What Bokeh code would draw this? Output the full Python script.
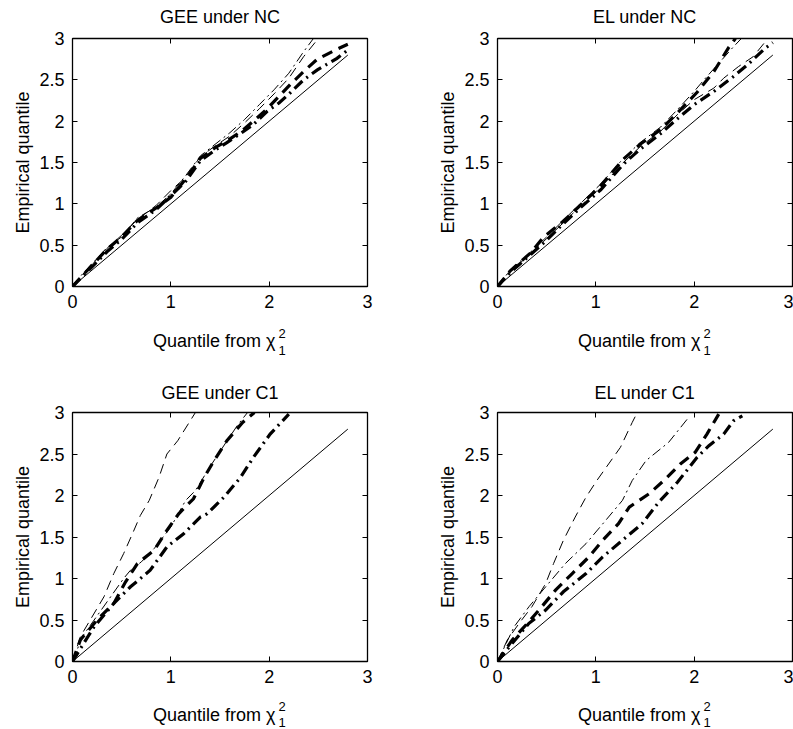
from bokeh.plotting import figure
from bokeh.layouts import column, row
from bokeh.models import LinearAxis, FixedTicker, Range1d
from bokeh.core.properties import value
from bokeh.embed import file_html
from bokeh.resources import INLINE

FONT = "Liberation Sans"

# ---------------- data ----------------
ref_x = [0, 2.8]
ref_y = [0, 2.8]

x_ticks = [0, 1, 2, 3]
y_ticks = [0, 0.5, 1, 1.5, 2, 2.5, 3]
y_tick_labels = ["0", "0.5", "1", "1.5", "2", "2.5", "3"]

titles = ["GEE under NC", "EL under NC", "GEE under C1", "EL under C1"]
x_label_main = "Quantile from \u03c7"
x_label_sup = "2"
x_label_sub = "1"
y_label = "Empirical quantile"

# GEE under NC
gee_nc_thick_dash_x = [0, 0.1, 0.35, 0.5, 0.66, 0.85, 1.0, 1.15, 1.3, 1.45, 1.57, 1.72, 1.84, 1.98, 2.1, 2.22, 2.35, 2.49, 2.69, 2.8]
gee_nc_thick_dash_y = [0, 0.13, 0.45, 0.60, 0.80, 0.95, 1.08, 1.30, 1.55, 1.68, 1.76, 1.88, 2.0, 2.15, 2.30, 2.45, 2.60, 2.75, 2.87, 2.93]
gee_nc_thick_dashdot_x = [0, 0.1, 0.35, 0.5, 0.66, 0.85, 1.0, 1.15, 1.3, 1.45, 1.57, 1.72, 1.84, 1.98, 2.1, 2.22, 2.35, 2.49, 2.69, 2.8]
gee_nc_thick_dashdot_y = [0, 0.12, 0.42, 0.57, 0.77, 0.93, 1.10, 1.27, 1.52, 1.65, 1.74, 1.86, 1.96, 2.12, 2.22, 2.35, 2.50, 2.62, 2.76, 2.86]
gee_nc_thin_dash_x = [0, 0.1, 0.35, 0.5, 0.66, 0.85, 1.0, 1.15, 1.3, 1.45, 1.6, 1.75, 1.9, 2.05, 2.2, 2.35, 2.5]
gee_nc_thin_dash_y = [0, 0.14, 0.46, 0.62, 0.81, 0.98, 1.16, 1.32, 1.57, 1.70, 1.82, 1.98, 2.15, 2.33, 2.52, 2.78, 3.0]
gee_nc_thin_dashdot_x = [0, 0.1, 0.35, 0.5, 0.66, 0.85, 1.0, 1.15, 1.3, 1.45, 1.6, 1.75, 1.9, 2.05, 2.2, 2.35, 2.45]
gee_nc_thin_dashdot_y = [0, 0.15, 0.47, 0.60, 0.83, 0.96, 1.12, 1.34, 1.58, 1.72, 1.86, 2.02, 2.20, 2.38, 2.58, 2.84, 3.0]

# EL under NC
el_nc_thick_dash_x = [0, 0.13, 0.34, 0.47, 0.66, 0.84, 1.05, 1.28, 1.45, 1.66, 1.83, 2.03, 2.2, 2.35, 2.42]
el_nc_thick_dash_y = [0, 0.19, 0.41, 0.60, 0.78, 0.98, 1.22, 1.54, 1.72, 1.90, 2.10, 2.35, 2.60, 2.89, 3.0]
el_nc_thick_dashdot_x = [0, 0.13, 0.34, 0.5, 0.66, 0.84, 1.05, 1.28, 1.45, 1.66, 1.83, 2.0, 2.2, 2.39, 2.55, 2.73, 2.8]
el_nc_thick_dashdot_y = [0, 0.17, 0.39, 0.56, 0.75, 0.95, 1.17, 1.48, 1.66, 1.85, 2.03, 2.20, 2.36, 2.53, 2.69, 2.89, 2.95]
el_nc_thin_dash_x = [0, 0.13, 0.34, 0.5, 0.66, 0.84, 1.05, 1.28, 1.45, 1.66, 1.83, 2.0, 2.2, 2.3, 2.45, 2.6, 2.75]
el_nc_thin_dash_y = [0, 0.18, 0.40, 0.58, 0.76, 0.97, 1.20, 1.50, 1.69, 1.88, 2.08, 2.26, 2.40, 2.52, 2.66, 2.78, 3.0]
el_nc_thin_dashdot_x = [0, 0.13, 0.34, 0.5, 0.66, 0.84, 1.05, 1.28, 1.45, 1.66, 1.83, 2.0, 2.1, 2.25, 2.4, 2.48]
el_nc_thin_dashdot_y = [0, 0.20, 0.42, 0.60, 0.79, 1.00, 1.24, 1.55, 1.74, 1.93, 2.14, 2.36, 2.50, 2.70, 2.90, 3.0]

# GEE under C1
gee_c1_thick_dash_x = [0, 0.08, 0.25, 0.42, 0.54, 0.66, 0.83, 0.96, 1.08, 1.23, 1.34, 1.44, 1.57, 1.73, 1.85]
gee_c1_thick_dash_y = [0, 0.26, 0.50, 0.70, 0.96, 1.18, 1.34, 1.58, 1.78, 1.96, 2.22, 2.42, 2.66, 2.88, 3.0]
gee_c1_thick_dashdot_x = [0, 0.22, 0.42, 0.59, 0.79, 0.96, 1.13, 1.30, 1.37, 1.54, 1.71, 1.84, 2.01, 2.2]
gee_c1_thick_dashdot_y = [0, 0.42, 0.70, 0.90, 1.10, 1.38, 1.54, 1.74, 1.78, 1.98, 2.22, 2.46, 2.74, 2.98]
gee_c1_thin_dash_x = [0, 0.08, 0.18, 0.32, 0.42, 0.52, 0.61, 0.69, 0.78, 0.88, 0.96, 1.07, 1.25]
gee_c1_thin_dash_y = [0, 0.30, 0.50, 0.78, 1.06, 1.30, 1.54, 1.76, 1.94, 2.22, 2.50, 2.66, 3.0]
gee_c1_thin_dashdot_x = [0, 0.1, 0.25, 0.4, 0.52, 0.59, 0.7, 0.83, 1.0, 1.15, 1.25, 1.4, 1.55, 1.68, 1.78]
gee_c1_thin_dashdot_y = [0, 0.30, 0.55, 0.80, 1.00, 1.10, 1.20, 1.36, 1.62, 1.94, 2.06, 2.35, 2.62, 2.85, 3.0]

# EL under C1
el_c1_thick_dash_x = [0, 0.15, 0.32, 0.45, 0.59, 0.76, 0.93, 1.07, 1.23, 1.34, 1.54, 1.71, 1.86, 2.01, 2.13, 2.25]
el_c1_thick_dash_y = [0, 0.26, 0.48, 0.66, 0.86, 1.06, 1.26, 1.46, 1.66, 1.86, 2.02, 2.20, 2.38, 2.52, 2.74, 2.98]
el_c1_thick_dashdot_x = [0, 0.15, 0.32, 0.49, 0.67, 0.90, 1.07, 1.27, 1.47, 1.64, 1.83, 2.03, 2.15, 2.30, 2.40, 2.49]
el_c1_thick_dashdot_y = [0, 0.22, 0.46, 0.62, 0.84, 1.06, 1.26, 1.46, 1.66, 1.92, 2.16, 2.46, 2.60, 2.74, 2.90, 2.96]
el_c1_thin_dash_x = [0, 0.10, 0.22, 0.35, 0.49, 0.57, 0.67, 0.79, 0.90, 1.01, 1.13, 1.25, 1.37, 1.40]
el_c1_thin_dash_y = [0, 0.26, 0.46, 0.66, 0.94, 1.18, 1.46, 1.74, 1.98, 2.18, 2.38, 2.58, 2.88, 2.95]
el_c1_thin_dashdot_x = [0, 0.17, 0.32, 0.49, 0.69, 0.90, 1.10, 1.27, 1.37, 1.51, 1.74, 1.95]
el_c1_thin_dashdot_y = [0, 0.42, 0.66, 0.90, 1.18, 1.42, 1.70, 1.94, 2.18, 2.42, 2.64, 2.95]

panels = [
    [(gee_nc_thin_dash_x, gee_nc_thin_dash_y), (gee_nc_thin_dashdot_x, gee_nc_thin_dashdot_y),
     (gee_nc_thick_dash_x, gee_nc_thick_dash_y), (gee_nc_thick_dashdot_x, gee_nc_thick_dashdot_y)],
    [(el_nc_thin_dash_x, el_nc_thin_dash_y), (el_nc_thin_dashdot_x, el_nc_thin_dashdot_y),
     (el_nc_thick_dash_x, el_nc_thick_dash_y), (el_nc_thick_dashdot_x, el_nc_thick_dashdot_y)],
    [(gee_c1_thin_dash_x, gee_c1_thin_dash_y), (gee_c1_thin_dashdot_x, gee_c1_thin_dashdot_y),
     (gee_c1_thick_dash_x, gee_c1_thick_dash_y), (gee_c1_thick_dashdot_x, gee_c1_thick_dashdot_y)],
    [(el_c1_thin_dash_x, el_c1_thin_dash_y), (el_c1_thin_dashdot_x, el_c1_thin_dashdot_y),
     (el_c1_thick_dash_x, el_c1_thick_dash_y), (el_c1_thick_dashdot_x, el_c1_thick_dashdot_y)],
]

# styles: thin dashed, thin dash-dot, thick dashed, thick dash-dot
styles = [
    dict(line_width=1, line_dash="10 6"),
    dict(line_width=1, line_dash="10 4 2 4"),
    dict(line_width=3.2, line_dash="11 7"),
    dict(line_width=3.2, line_dash="11 5 2 5"),
]

FRAME_W = 295
B_LEFT = [72, 64]
B_RIGHT = [66, 1]
WIDTHS = [B_LEFT[i] + FRAME_W + B_RIGHT[i] for i in range(2)]

# rendered baseline sits a little below the requested y; compensate
SHIFT_BIG = 6.0
SHIFT_SMALL = 4.5


def make_panel(idx):
    top = idx < 2
    col = idx % 2
    frame_h = 248 if top else 249
    b_top, b_bottom = 8, 30
    p = figure(width=WIDTHS[col], height=b_top + frame_h + b_bottom,
               x_range=(0, 3), y_range=(0, 3),
               output_backend="svg", toolbar_location=None,
               min_border_left=B_LEFT[col], min_border_right=B_RIGHT[col],
               min_border_top=b_top, min_border_bottom=b_bottom)
    p.grid.visible = False
    p.outline_line_color = "black"
    p.outline_line_width = 1
    p.background_fill_color = "white"
    p.border_fill_color = "white"

    for ax in (p.xaxis[0], p.yaxis[0]):
        ax.major_tick_in = 5
        ax.major_tick_out = 0
        ax.minor_tick_line_color = None
        ax.axis_line_color = "black"
        ax.axis_line_width = 1.3
        ax.major_label_text_font = FONT
        ax.major_label_text_font_size = "18px"
        ax.major_label_text_color = "black"
        ax.axis_label_text_font = FONT
        ax.axis_label_text_font_size = "18px"
        ax.axis_label_text_font_style = "normal"
        ax.axis_label_text_color = "black"
    p.xaxis[0].ticker = FixedTicker(ticks=x_ticks)
    p.yaxis[0].ticker = FixedTicker(ticks=y_ticks)
    p.yaxis[0].major_label_overrides = {t: s for t, s in zip(y_ticks, y_tick_labels)}
    p.xaxis[0].major_label_standoff = 8
    p.yaxis[0].major_label_standoff = 8
    p.yaxis[0].axis_label = y_label
    p.yaxis[0].axis_label_standoff = 3

    # mirrored ticks on top and right (no labels)
    for loc, tick in (("above", x_ticks), ("right", y_ticks)):
        ax2 = LinearAxis(ticker=FixedTicker(ticks=tick))
        ax2.major_tick_in = 5
        ax2.major_tick_out = 0
        ax2.minor_tick_line_color = None
        ax2.major_label_text_font_size = "0px"
        ax2.major_label_text_color = None
        ax2.major_label_standoff = 0
        ax2.axis_line_color = "black"
        ax2.axis_line_width = 1.3
        p.add_layout(ax2, loc)

    p.line(ref_x, ref_y, line_color="black", line_width=1)
    for (xs, ys), st in zip(panels[idx], styles):
        p.line(xs, ys, line_color="black", line_join="miter", **st)
    return p


def text_strip(col, height, items):
    """A plain strip (pixel coordinates, y downward) holding title / x-label texts."""
    w = WIDTHS[col]
    f = figure(width=w, height=height, x_range=Range1d(0, w), y_range=Range1d(height, 0),
               x_axis_type=None, y_axis_type=None, toolbar_location=None,
               output_backend="svg", min_border=0, outline_line_color=None)
    f.background_fill_color = "white"
    f.border_fill_color = "white"
    for (x, y, txt, size, align) in items:
        shift = SHIFT_BIG if size == "18px" else SHIFT_SMALL
        f.text(x=[x], y=[y - shift], text=[txt], text_font=value(FONT),
               text_font_size=value(size), text_align=align,
               text_baseline="alphabetic", text_color="black")
    return f


def title_item(col, y, idx):
    return (B_LEFT[col] + FRAME_W / 2, y, titles[idx], "18px", "center")


def xlabel_items(col, y_base, y_sup, y_sub):
    xr = B_LEFT[col] + 203
    return [(xr, y_base, x_label_main, "18px", "right"),
            (xr + 3, y_sup, x_label_sup, "13px", "left"),
            (xr + 3, y_sub, x_label_sub, "13px", "left")]


# strips: header (0-30), middle (316-404), footer (691-729); y = wanted baseline
header = [text_strip(c, 30, [title_item(c, 22, c)]) for c in range(2)]
middle = [text_strip(c, 88, xlabel_items(c, 30, 21, 38) + [title_item(c, 82, c + 2)]) for c in range(2)]
footer = [text_strip(c, 38, xlabel_items(c, 29, 19, 35)) for c in range(2)]

figs = [make_panel(i) for i in range(4)]
layout = column(row(header[0], header[1]),
                row(figs[0], figs[1]),
                row(middle[0], middle[1]),
                row(figs[2], figs[3]),
                row(footer[0], footer[1]))

open("out.html", "w").write(file_html(layout, INLINE))
